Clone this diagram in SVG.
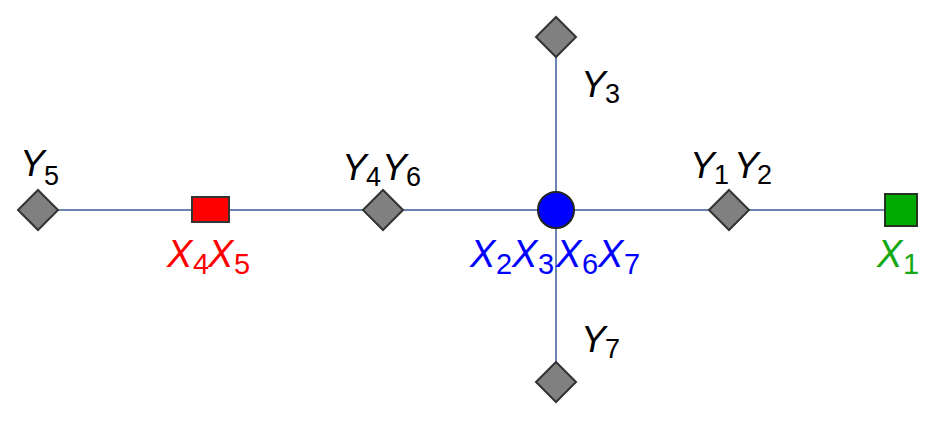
<svg xmlns="http://www.w3.org/2000/svg" width="938" height="425" viewBox="0 0 938 425">
<style>
.edge{stroke:#6a85b2;stroke-width:2;fill:none}
.dia{fill:#808080;stroke:#333;stroke-width:2}
text{font-family:"Liberation Sans",Arial,sans-serif}
.m{font-style:italic;font-size:37px}
.s{font-size:27px}
.mx{font-style:italic;font-size:38px}
.sx{font-size:29px}
.blk{fill:#000}
.red{fill:#ff0000}
.blu{fill:#0000ff}
.grn{fill:#14a814}
</style>
<rect width="938" height="425" fill="#fff"/>
<g id="connectors">
<line class="edge" x1="38" y1="210" x2="901" y2="210"/>
<line class="edge" x1="556" y1="37" x2="556" y2="382"/>
</g>
<g id="Y5"><path class="dia" d="M38 190L58 210L38 230L18 210Z"/>
<text x="20" y="176"><tspan class="m blk">Y</tspan><tspan class="s blk" x="44" y="185">5</tspan></text></g>
<g id="X4X5"><rect x="192" y="197" width="37" height="25" fill="#ff0000" stroke="#333" stroke-width="2"/>
<text y="267"><tspan class="mx red" x="167">X</tspan><tspan class="sx red" x="193" y="274">4</tspan><tspan class="mx red" x="208" y="267">X</tspan><tspan class="sx red" x="234" y="274">5</tspan></text></g>
<g id="Y4Y6"><path class="dia" d="M383 190L403 210L383 230L363 210Z"/>
<text y="180"><tspan class="m blk" x="342">Y</tspan><tspan class="s blk" x="366" y="186">4</tspan><tspan class="m blk" x="382" y="180">Y</tspan><tspan class="s blk" x="406" y="186">6</tspan></text></g>
<g id="X2X3X6X7"><circle cx="556" cy="210" r="18" fill="#0000ff" stroke="#222" stroke-width="2"/>
<text y="267"><tspan class="mx blu" x="470">X</tspan><tspan class="sx blu" x="496" y="274">2</tspan><tspan class="mx blu" x="512" y="267">X</tspan><tspan class="sx blu" x="538" y="274">3</tspan><tspan class="mx blu" x="556" y="267">X</tspan><tspan class="sx blu" x="582" y="274">6</tspan><tspan class="mx blu" x="598" y="267">X</tspan><tspan class="sx blu" x="624" y="274">7</tspan></text></g>
<g id="Y1Y2"><path class="dia" d="M729 190L749 210L729 230L709 210Z"/>
<text y="178"><tspan class="m blk" x="690">Y</tspan><tspan class="s blk" x="714" y="184">1</tspan><tspan class="m blk" x="734" y="178">Y</tspan><tspan class="s blk" x="757" y="184">2</tspan></text></g>
<g id="X1"><rect x="885" y="194" width="32" height="32" fill="#00aa00" stroke="#223322" stroke-width="2"/>
<text y="267"><tspan class="mx grn" x="877">X</tspan><tspan class="sx grn" x="903" y="274">1</tspan></text></g>
<g id="Y3"><path class="dia" d="M556 17L576 37L556 57L536 37Z"/>
<text y="97"><tspan class="m blk" x="581">Y</tspan><tspan class="s blk" x="605" y="103">3</tspan></text></g>
<g id="Y7"><path class="dia" d="M556 362L576 382L556 402L536 382Z"/>
<text y="352"><tspan class="m blk" x="581">Y</tspan><tspan class="s blk" x="605" y="358">7</tspan></text></g>
</svg>
